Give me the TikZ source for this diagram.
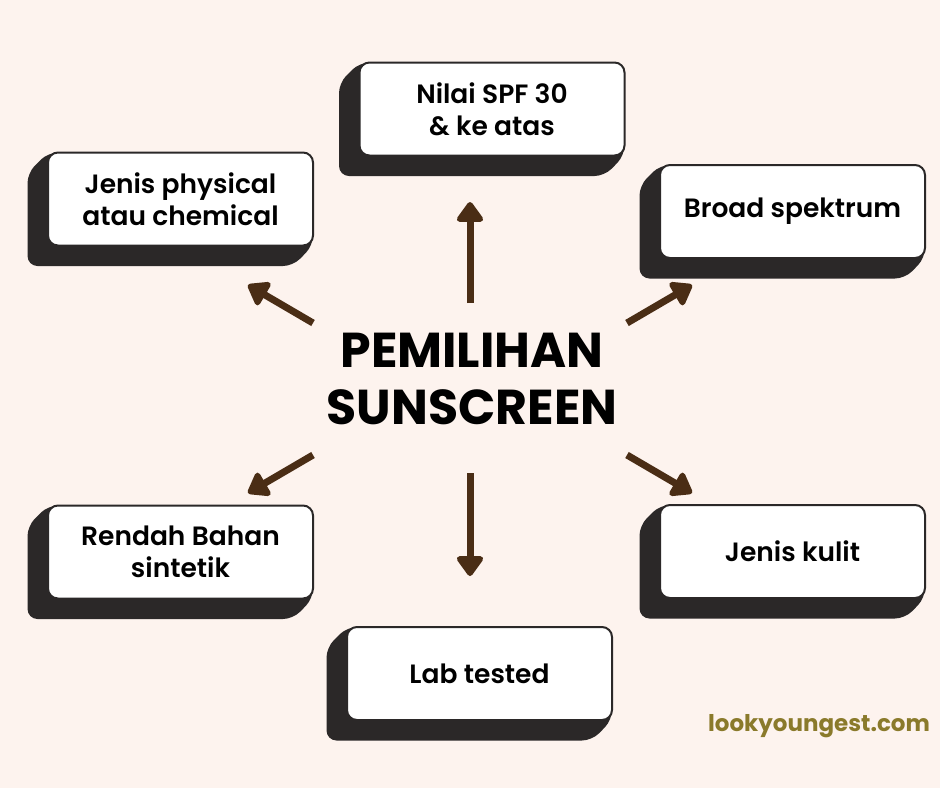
\documentclass[tikz,border=0pt]{standalone}
\usepackage{fontspec}
\setmainfont{Poppins}
\newfontfamily\boxfont{Poppins SemiBold}
\newfontfamily\titlefont{Poppins Bold}
\usetikzlibrary{arrows.meta}

\definecolor{bgpink}{HTML}{FDF3EE}
\definecolor{boxdark}{HTML}{2B2828}
\definecolor{arrbrown}{HTML}{4A2D15}
\definecolor{webolive}{HTML}{8A7A2B}

\tikzset{
  face/.style={draw=boxdark, line width=2pt, fill=white, rounded corners=10pt,
    minimum width=265pt, minimum height=93pt, align=center,
    font=\boxfont\fontsize{26.5}{32}\selectfont},
  arr/.style={arrbrown, line width=7pt, -{Triangle[length=22pt,width=30pt,round]}}
}

% box with its dark extruded side, #1 name, #2 x, #3 y, #4 text
\newcommand{\tipbox}[4]{%
  \fill[boxdark, rounded corners=10pt] (#2-132.5,#3-46.5) -- (#2+132.5,#3-46.5)
    -- (#2+132.5,#3+46.5) -- (#2+112.5,#3+67) -- (#2-153,#3+67) -- (#2-153,#3-26) -- cycle;
  \node[face] (#1) at (#2,#3) {#4};
}

\begin{document}
\begin{tikzpicture}[x=1pt,y=-1pt]
  \fill[bgpink] (0,0) rectangle (940,788);
  \useasboundingbox (0,0) rectangle (940,788);

  \tipbox{spf}{492}{109}{Nilai SPF 30\\ \& ke atas}
  \tipbox{jenis}{180.5}{199}{Jenis physical\\atau chemical}
  \tipbox{broad}{792.5}{211.5}{Broad spektrum}
  \tipbox{rendah}{180.5}{552}{Rendah Bahan\\sintetik}
  \tipbox{kulit}{792.5}{551.5}{Jenis kulit}
  \tipbox{lab}{479.5}{673.5}{Lab tested}

  \node[font=\titlefont\fontsize{49}{57}\selectfont, align=center] (title) at (472,379) {PEMILIHAN\\SUNSCREEN};

  \foreach \nm/\sx/\sy/\ex/\ey in {up/470/303/470/202, dn/470/473/470/576,
      ul/313/323/248/285, ur/627/323/692/285, dl/313/455/248/493, dr/627/455/692/493} {
    \coordinate (\nm-s) at (\sx,\sy);
    \coordinate (\nm-e) at (\ex,\ey);
    \draw[arr] (\nm-s) -- (\nm-e);
  }

  \node[font=\titlefont\fontsize{23}{28}\selectfont, text=webolive] (web) at (819,726) {lookyoungest.com};
\end{tikzpicture}
\end{document}
